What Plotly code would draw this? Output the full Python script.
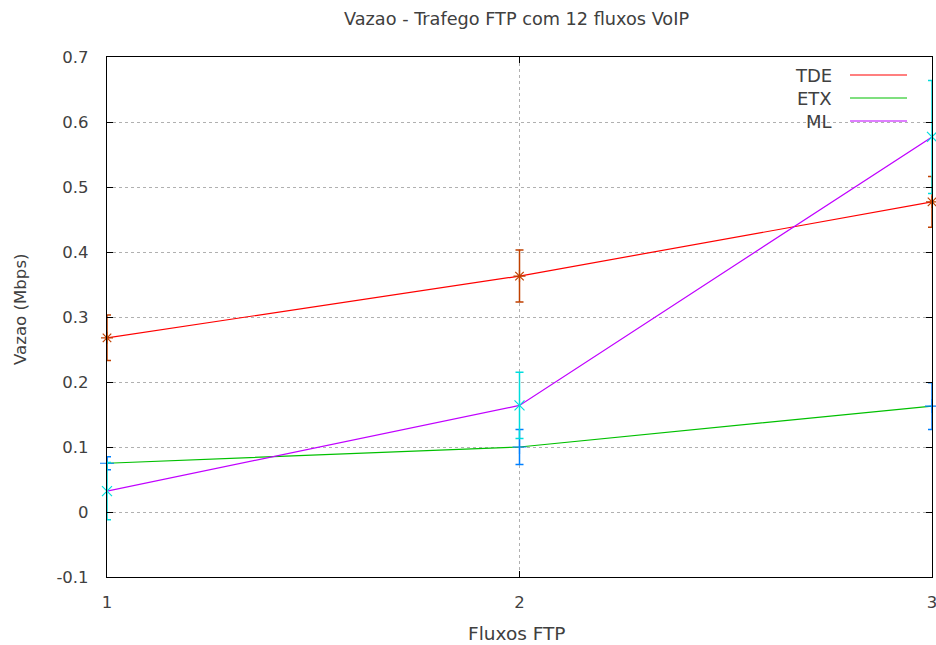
import plotly.graph_objects as go

x_vals = [1, 2, 3]
series_names = ["TDE", "ETX", "ML"]
tde = [0.268, 0.363, 0.477]
tde_err = [0.035, 0.040, 0.039]
etx = [0.075, 0.100, 0.163]
etx_err = [0.010, 0.027, 0.036]
ml = [0.032, 0.164, 0.577]
ml_err = [0.044, 0.051, 0.087]
y_ticks = [-0.1, 0, 0.1, 0.2, 0.3, 0.4, 0.5, 0.6, 0.7]
y_tick_labels = ["-0.1", "0", "0.1", "0.2", "0.3", "0.4", "0.5", "0.6", "0.7"]
x_ticks = [1, 2, 3]

line_colors = ["#ff0000", "#00c000", "#c000ff"]
err_colors = ["#c04000", "#0080ff", "#00dddd"]
symbols = ["asterisk-open", "cross-thin-open", "x-thin-open"]

FONT = "DejaVu Sans"
TXT = "#404040"
W, H = 956, 645
L, R, T, B = 107, 24, 57, 68
pw, ph = W - L - R, H - T - B

fig = go.Figure()
data = [(tde, tde_err), (etx, etx_err), (ml, ml_err)]
for i, (vals, errs) in enumerate(data):
    fig.add_trace(go.Scatter(
        x=x_vals, y=vals, mode="lines", name=series_names[i],
        line=dict(color=line_colors[i], width=1.2), showlegend=False,
        cliponaxis=False))
for i, (vals, errs) in enumerate(data):
    fig.add_trace(go.Scatter(
        x=x_vals, y=vals, mode="markers", showlegend=False,
        marker=dict(symbol=symbols[i], size=10, color=err_colors[i],
                    line=dict(color=err_colors[i], width=1.2)),
        error_y=dict(type="data", array=errs, visible=True,
                     color=err_colors[i], thickness=1.5, width=4),
        cliponaxis=False))

def px_to_paper(px, py):
    return (px - L) / pw, (H - B - py) / ph

shapes = []
annotations = []
legend_y = [75, 98, 121]
for i, name in enumerate(series_names):
    x0, y0 = px_to_paper(850, legend_y[i])
    x1, _ = px_to_paper(907, legend_y[i])
    shapes.append(dict(type="line", xref="paper", yref="paper",
                       x0=x0, x1=x1, y0=y0, y1=y0,
                       line=dict(color=line_colors[i], width=1.2)))
    tx, ty = px_to_paper(834, legend_y[i])
    annotations.append(dict(text=name, xref="paper", yref="paper",
                            x=tx, y=ty, xanchor="right", yanchor="middle",
                            showarrow=False,
                            font=dict(family=FONT, size=18, color=TXT)))

ax, ay = px_to_paper(20, 309)
annotations.append(dict(text="Vazao (Mbps)", xref="paper", yref="paper",
                        x=ax, y=ay, xanchor="center", yanchor="middle",
                        textangle=-90, showarrow=False,
                        font=dict(family=FONT, size=16.6, color=TXT)))
bx, by = px_to_paper(517, 633)
annotations.append(dict(text="Fluxos FTP", xref="paper", yref="paper",
                        x=bx, y=by, xanchor="center", yanchor="middle",
                        showarrow=False,
                        font=dict(family=FONT, size=18.5, color=TXT)))
cx, cy = px_to_paper(516, 19)
annotations.append(dict(text="Vazao - Trafego FTP com 12 fluxos VoIP",
                        xref="paper", yref="paper",
                        x=cx, y=cy, xanchor="center", yanchor="middle",
                        showarrow=False,
                        font=dict(family=FONT, size=17.7, color=TXT)))

fig.update_layout(
    width=W, height=H,
    margin=dict(l=L, r=R, t=T, b=B),
    paper_bgcolor="white", plot_bgcolor="white",
    shapes=shapes, annotations=annotations,
    showlegend=False,
    xaxis=dict(range=[1, 3], tickvals=x_ticks, ticktext=[str(v) for v in x_ticks],
               ticks="inside", ticklen=6, tickcolor="black", tickwidth=1,
               showline=True, linecolor="black", linewidth=1.2, mirror="ticks",
               showgrid=True, gridcolor="#b0b0b0", griddash="dot", gridwidth=1,
               zeroline=False, ticklabelstandoff=10,
               tickfont=dict(family=FONT, size=16.5, color=TXT)),
    yaxis=dict(range=[-0.1, 0.7], tickvals=y_ticks, ticktext=y_tick_labels,
               ticks="inside", ticklen=6, tickcolor="black", tickwidth=1,
               showline=True, linecolor="black", linewidth=1.2, mirror="ticks",
               showgrid=True, gridcolor="#b0b0b0", griddash="dot", gridwidth=1,
               zeroline=False, ticklabelstandoff=14,
               tickfont=dict(family=FONT, size=16.5, color=TXT)),
)

fig.write_html("out.html",
               config={"displayModeBar": False},
               post_script="document.body.style.margin='0';document.body.style.overflow='hidden';")
